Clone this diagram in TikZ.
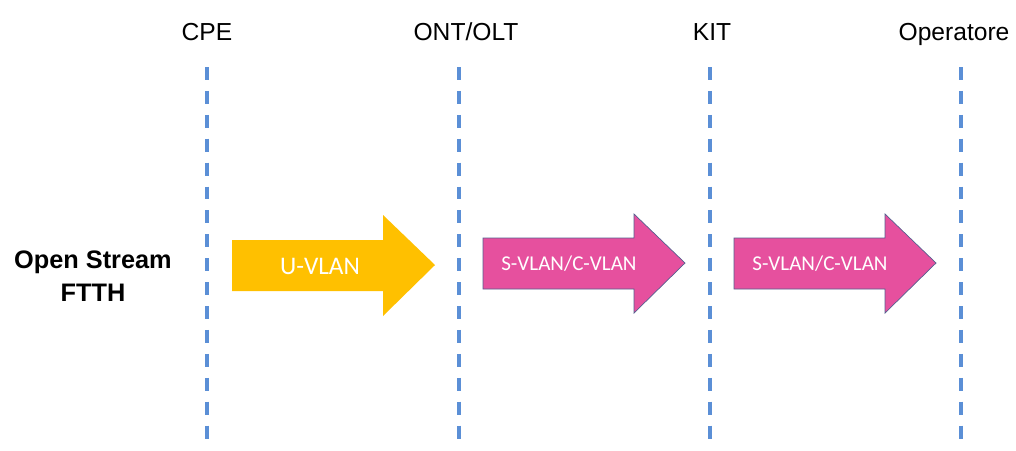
\documentclass[tikz,border=0pt]{standalone}
\usepackage{fontspec}
\setmainfont{Liberation Sans}
\newfontfamily\calib{Carlito}
\definecolor{dashblue}{HTML}{5B8FD6}
\definecolor{arrowyellow}{HTML}{FFC000}
\definecolor{arrowpink}{HTML}{E6509E}
\definecolor{pinkedge}{HTML}{55608F}
\tikzset{
  sepline/.style={draw=dashblue, line width=2.4pt, dash pattern=on 9.2pt off 7.8pt},
  toplabel/.style={font=\fontsize{17.5}{20}\selectfont, text=black, inner sep=0pt, anchor=base},
  arrowtext/.style={font=\calib\fontsize{15}{18}\selectfont, text=white, inner sep=0pt},
  yarrow/.style={fill=arrowyellow, draw=none},
  parrow/.style={fill=arrowpink, draw=pinkedge, line width=0.5pt},
}
\begin{document}
\begin{tikzpicture}[x=0.025cm, y=-0.025cm]
\fill[white] (0,0) rectangle (1016,450);
\useasboundingbox (0,0) rectangle (1016,450);
% labels
\node[toplabel] (cpe) at (207,40) {CPE};
\node[toplabel] (ont) at (466,40) {ONT/OLT};
\node[toplabel] (kit) at (712,40) {KIT};
\node[toplabel] (op) at (954,40) {Operatore};
% dashed separators
\coordinate (l1t) at (207,67); \coordinate (l1b) at (207,445);
\coordinate (l2t) at (459,67); \coordinate (l2b) at (459,445);
\coordinate (l3t) at (710,67); \coordinate (l3b) at (710,445);
\coordinate (l4t) at (961,67); \coordinate (l4b) at (961,445);
\draw[sepline] (l1t) -- (l1b);
\draw[sepline] (l2t) -- (l2b);
\draw[sepline] (l3t) -- (l3b);
\draw[sepline] (l4t) -- (l4b);
% row label
\node[font=\bfseries\fontsize{18}{23}\selectfont, align=center, inner sep=0pt] (row) at (93,276) {Open Stream\\FTTH};
% arrows
\path[yarrow] (232,240) -- (383,240) -- (383,215) -- (435,265) -- (383,316) -- (383,291) -- (232,291) -- cycle;
\node[arrowtext, font=\calib\fontsize{18}{20}\selectfont] (a1) at (320,266) {U-VLAN};
\path[parrow] (483,238) -- (634,238) -- (634,214) -- (685,263) -- (634,313) -- (634,289) -- (483,289) -- cycle;
\node[arrowtext] (a2) at (569,264) {S-VLAN/C-VLAN};
\path[parrow] (734,238) -- (885,238) -- (885,214) -- (936,263) -- (885,313) -- (885,289) -- (734,289) -- cycle;
\node[arrowtext] (a3) at (820,264) {S-VLAN/C-VLAN};
\end{tikzpicture}
\end{document}
